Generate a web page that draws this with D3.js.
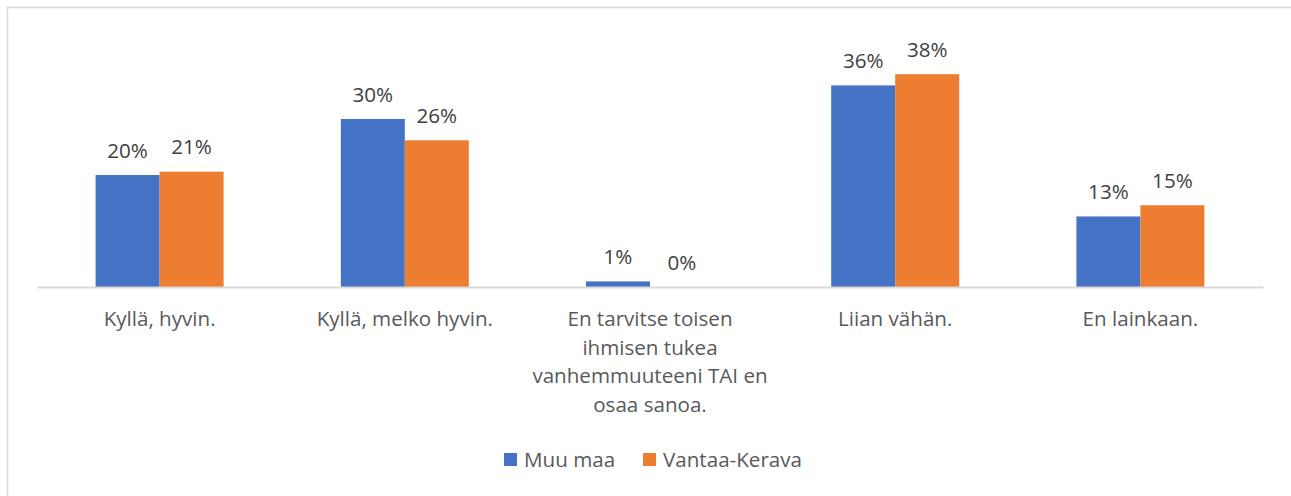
<!DOCTYPE html>
<html><head><meta charset="utf-8">
<script src="https://cdn.jsdelivr.net/npm/d3@7"></script>
<style>body{margin:0;background:#fff}svg{display:block}text{font-family:"Open Sans",sans-serif}</style>
</head><body>
<svg id="c" width="1291" height="496"></svg>
<script>
const categories = [
  ["Kyllä, hyvin."],
  ["Kyllä, melko hyvin."],
  ["En tarvitse toisen", "ihmisen tukea", "vanhemmuuteeni TAI en", "osaa sanoa."],
  ["Liian vähän."],
  ["En lainkaan."]
];
const seriesNames = ["Muu maa", "Vantaa-Kerava"];
const muuMaa = [0.200, 0.300, 0.010, 0.360, 0.126];
const vantaaKerava = [0.206, 0.262, 0.000, 0.380, 0.146];
const colors = ["#4472c4", "#ed7d31"];

const FS = 20.6;
const svg = d3.select("#c");
svg.append("rect").attr("x", 7.5).attr("y", 7.5).attr("width", 1300).attr("height", 500)
  .attr("fill", "none").attr("stroke", "#d9d9d9").attr("stroke-width", 1.5);

const x0 = d3.scaleBand().domain(d3.range(categories.length)).range([37, 1263]).paddingInner(0.478).paddingOuter(0.239);
const x1 = d3.scaleBand().domain([0, 1]).range([0, x0.bandwidth()]);
const y = d3.scaleLinear().domain([0, 0.5]).range([287, 7]);
const fmt = d3.format(".0%");
const series = [muuMaa, vantaaKerava];

const g = svg.append("g");
series.forEach((vals, si) => {
  g.selectAll(".b" + si).data(vals).join("rect")
    .attr("x", (d, i) => x0(i) + x1(si))
    .attr("y", d => y(d))
    .attr("width", x1.bandwidth())
    .attr("height", d => y(0) - y(d))
    .attr("fill", colors[si]);
  g.selectAll(".l" + si).data(vals).join("text")
    .attr("x", (d, i) => x0(i) + x1(si) + x1.bandwidth() / 2)
    .attr("y", d => y(d) - 17.5)
    .attr("text-anchor", "middle")
    .attr("font-size", FS)
    .attr("fill", "#404040")
    .text(d => fmt(d));
});

// axis
const axis = d3.axisBottom(x0).tickSize(0).tickFormat("");
const ag = svg.append("g").attr("transform", "translate(0,287)").call(axis);
ag.select(".domain").attr("stroke", "#d9d9d9").attr("stroke-width", 2);

categories.forEach((lines, i) => {
  const t = svg.append("text").attr("text-anchor", "middle").attr("font-size", FS).attr("fill", "#595959");
  lines.forEach((ln, k) => {
    t.append("tspan").attr("x", x0(i) + x0.bandwidth() / 2).attr("y", 326 + k * 28.5).text(ln);
  });
});

// legend
const leg = svg.append("g");
const legX = [504, 643];
seriesNames.forEach((n, i) => {
  leg.append("rect").attr("x", legX[i]).attr("y", 453).attr("width", 13).attr("height", 13).attr("fill", colors[i]);
  leg.append("text").attr("x", legX[i] + 20).attr("y", 467).attr("font-size", FS).attr("fill", "#595959").text(n);
});
</script>
</body></html>
